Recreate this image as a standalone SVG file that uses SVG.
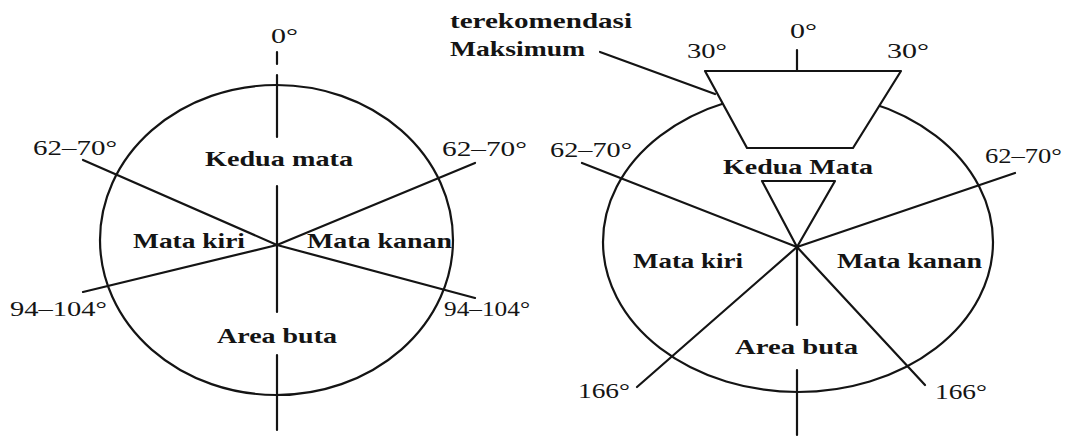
<svg xmlns="http://www.w3.org/2000/svg" width="1068" height="437" viewBox="0 0 1068 437">
<style>
.ln{stroke:#141414;stroke-width:2.2;fill:none;stroke-linecap:round;stroke-linejoin:round}
.sh{stroke:#141414;stroke-width:2.2;fill:#fff;stroke-linejoin:round}
.t{font-family:"Liberation Serif","Times New Roman",serif;font-size:21px;fill:#141414}
.b{font-family:"Liberation Serif","Times New Roman",serif;font-size:22px;font-weight:bold;fill:#141414}
</style>
<rect width="1068" height="437" fill="#fff"/>
<g id="left-diagram">
  <g id="left-field"><ellipse class="ln" cx="276.5" cy="240" rx="176.5" ry="155"/></g>
  <g id="left-connectors">
    <path class="ln" d="M277 52V64M277 75V137M277 186V312M277 355V430"/>
    <path class="ln" d="M83 160L277 245L475 163M83 292L277 245L475 298"/>
  </g>
  <g id="left-labels">
    <text class="t" x="271" y="43" textLength="27" lengthAdjust="spacingAndGlyphs">0°</text>
    <text class="t" x="33" y="155" textLength="84" lengthAdjust="spacingAndGlyphs">62–70°</text>
    <text class="t" x="442" y="156" textLength="85" lengthAdjust="spacingAndGlyphs">62–70°</text>
    <text class="t" x="10" y="316" textLength="97" lengthAdjust="spacingAndGlyphs">94–104°</text>
    <text class="t" x="444" y="316" textLength="86" lengthAdjust="spacingAndGlyphs">94–104°</text>
  </g>
  <g id="left-kedua"><text class="b" x="205" y="166" textLength="148" lengthAdjust="spacingAndGlyphs">Kedua mata</text></g>
  <g id="left-kiri"><text class="b" x="133" y="248" textLength="112" lengthAdjust="spacingAndGlyphs">Mata kiri</text></g>
  <g id="left-kanan"><text class="b" x="307" y="248" textLength="145" lengthAdjust="spacingAndGlyphs">Mata kanan</text></g>
  <g id="left-buta"><text class="b" x="217" y="343" textLength="120" lengthAdjust="spacingAndGlyphs">Area buta</text></g>
</g>
<g id="right-diagram">
  <g id="right-field"><ellipse class="ln" cx="798" cy="242" rx="195" ry="150"/></g>
  <g id="right-connectors">
    <path class="ln" d="M797 247V325M797 370V435"/>
    <path class="ln" d="M582 163L797 247L1015 173M637 387L797 247L925 385"/>
    <path class="ln" d="M797 50V71"/>
    <path class="ln" d="M600 52L715 94"/>
  </g>
  <g id="max-zone"><polygon class="sh" points="705,71 901,71 853,148 747,148"/></g>
  <g id="center-triangle"><polygon class="sh" points="762,181 835,181 797,247"/></g>
  <g id="right-labels">
    <text class="b" x="450" y="28" textLength="182" lengthAdjust="spacingAndGlyphs">terekomendasi</text>
    <text class="b" x="450" y="56" textLength="135" lengthAdjust="spacingAndGlyphs">Maksimum</text>
    <text class="t" x="687" y="58" textLength="40" lengthAdjust="spacingAndGlyphs">30°</text>
    <text class="t" x="790" y="38" textLength="27" lengthAdjust="spacingAndGlyphs">0°</text>
    <text class="t" x="887" y="58" textLength="42" lengthAdjust="spacingAndGlyphs">30°</text>
    <text class="t" x="550" y="157" textLength="82" lengthAdjust="spacingAndGlyphs">62–70°</text>
    <text class="t" x="985" y="163" textLength="77" lengthAdjust="spacingAndGlyphs">62–70°</text>
    <text class="t" x="578" y="398" textLength="52" lengthAdjust="spacingAndGlyphs">166°</text>
    <text class="t" x="935" y="399" textLength="52" lengthAdjust="spacingAndGlyphs">166°</text>
  </g>
  <g id="right-kedua"><text class="b" x="723" y="174" textLength="150" lengthAdjust="spacingAndGlyphs">Kedua Mata</text></g>
  <g id="right-kiri"><text class="b" x="633" y="268" textLength="110" lengthAdjust="spacingAndGlyphs">Mata kiri</text></g>
  <g id="right-kanan"><text class="b" x="837" y="268" textLength="145" lengthAdjust="spacingAndGlyphs">Mata kanan</text></g>
  <g id="right-buta"><text class="b" x="735" y="354" textLength="123" lengthAdjust="spacingAndGlyphs">Area buta</text></g>
</g>
</svg>
